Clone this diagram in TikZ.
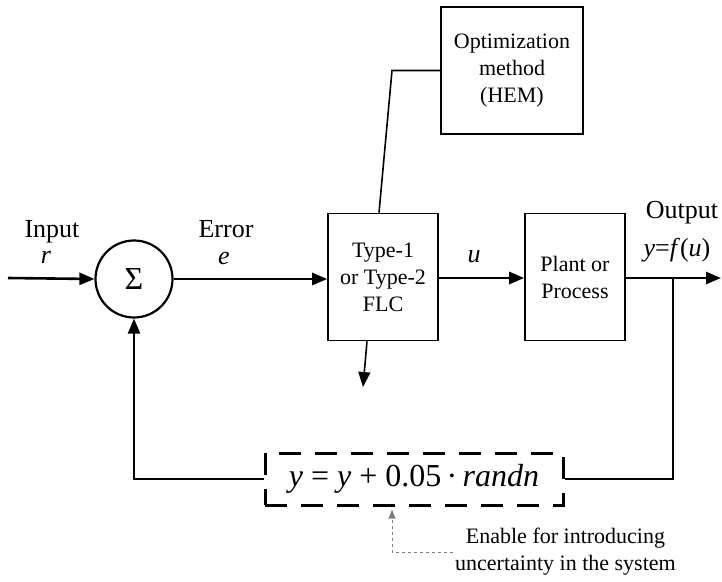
\documentclass[tikz,border=0pt]{standalone}
\usepackage{fontspec}
\setmainfont{Liberation Serif}
\usepackage{tikz}
\usetikzlibrary{
    shapes, shapes.geometric,
    arrows.meta, positioning, calc
}

\begin{document}
\begin{tikzpicture}[x=1pt, y=-1pt,
    every node/.style={font=\fontsize{22}{27}\selectfont},
    blok/.style={draw, line width=1.6pt, inner sep=0pt, align=center},
    sinyal/.style={line width=2.6pt, -{Triangle[length=15pt, width=12pt]}},
    label/.style={font=\fontsize{26}{30}\selectfont, anchor=base}
]
    \useasboundingbox (0, 0) rectangle (722, 581);

    % --- Blok utama ---
    \node[blok, circle, minimum size=77pt, line width=2.2pt, font=\fontsize{32}{36}\selectfont] (sum) at (134, 279) {Σ};
    \node[blok, minimum width=110pt, minimum height=127pt] (flc) at (383, 277) {Type-1\\or Type-2\\FLC};
    \node[blok, minimum width=100pt, minimum height=127pt] (plant) at (575, 277) {Plant or\\Process};
    \node[blok, minimum width=142pt, minimum height=127pt] (opt) at (512, 70.5) {Optimization\\method\\(HEM)};

    % --- Blok noise (dashed) ---
    \node[draw, line width=3pt, dash pattern=on 22pt off 14pt, minimum width=298pt, minimum height=52pt,
        inner sep=0pt, font=\fontsize{32}{36}\selectfont] (noise) at (414, 479)
        {\textit{y} = \textit{y} + 0.05\,·\,\textit{randn}};

    % --- Titik bantu ---
    \coordinate (masuk) at (8, 278);
    \coordinate (keluar) at (721, 278);
    \coordinate (cabang) at (673, 278);
    \coordinate (tekuk) at (392, 70.5);
    \coordinate (bawah) at (363, 387);

    % --- Label sinyal ---
    \node[label] (inlbl) at (52, 237) {Input};
    \node[label] (rlbl) at (46, 263) {\textit{r}};
    \node[label] (errlbl) at (226, 237) {Error};
    \node[label] (elbl) at (224, 264) {\textit{e}};
    \node[label] (ulbl) at (474, 262) {\textit{u}};
    \node[label] (outlbl) at (682, 218) {Output};
    \node[label] (ylbl) at (677, 256) {\textit{y}=\textit{f}(\textit{u})};

    % --- Jalur sinyal ---
    \draw[sinyal] (masuk) -- (sum.west);
    \draw[sinyal] (sum.east) -- (sum.east -| flc.west);
    \draw[sinyal] (flc.east |- masuk) -- (plant.west |- masuk);
    \draw[sinyal] (plant.east |- masuk) -- (keluar);
    \draw[line width=1.6pt] (opt.west) -- (tekuk) -- ($(flc.north)+(-4, 0)$);
    \draw[line width=1.6pt, -{Triangle[length=15pt, width=12pt]}] ($(flc.south)+(-16, 0)$) -- (bawah);

    % --- Umpan balik ---
    \draw[line width=2pt] (cabang) |- (noise.east);
    \draw[sinyal] (noise.west) -| (sum.south);

    % --- Keterangan ---
    \node[align=center, inner sep=2pt, anchor=west] (ket) at (453, 552) {Enable for introducing\\uncertainty in the system};
    \draw[dashed, gray, line width=0.8pt, -{Triangle[length=9pt, width=7pt]}, shorten >=3pt] (ket.west) -| ($(noise.south)+(-22, 0)$);

\end{tikzpicture}
\end{document}
